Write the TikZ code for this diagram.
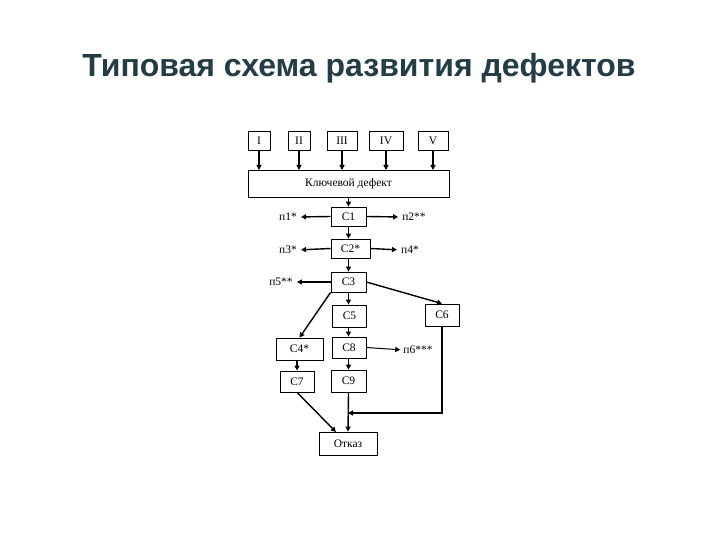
\documentclass[tikz,border=0pt]{standalone}
\usepackage{fontspec}
\setmainfont{Liberation Serif}
\newfontfamily\titlefont{Liberation Sans}
\usetikzlibrary{arrows.meta}
\definecolor{titlec}{RGB}{35,60,70}
\begin{document}
\begin{tikzpicture}[x=1pt,y=-1pt,
  bx/.style={draw,line width=0.8pt,minimum height=#1pt,inner sep=0pt,font=\fontsize{11.5}{12}\selectfont},
  bx/.default=19,
  lbl/.style={inner sep=0pt,font=\fontsize{11.5}{12}\selectfont},
  ar/.style={line width=1.4pt,-{Triangle[length=5pt,width=5pt]}}]
\useasboundingbox (0,0) rectangle (720,540);
\node[font=\titlefont\bfseries\fontsize{32}{36}\selectfont,text=titlec] (t) at (359,68) {Типовая схема развития дефектов};
\node[bx,minimum width=22pt] (i) at (259,140.5) {I};
\node[bx,minimum width=22pt] (ii) at (299,140.5) {II};
\node[bx,minimum width=30pt] (iii) at (342,140.5) {III};
\node[bx,minimum width=34pt] (iv) at (386,140.5) {IV};
\node[bx,minimum width=30pt] (v) at (433,140.5) {V};
\node[bx=27,minimum width=201pt] (k) at (348.5,183.5) {Ключевой дефект};
\node[bx,minimum width=35pt] (c1) at (348.5,216.5) {C1};
\node[bx,minimum width=39pt] (c2) at (350.5,248.5) {C2*};
\node[bx=20,minimum width=35pt] (c3) at (348.5,282) {C3};
\node[bx=22,minimum width=34pt] (c5) at (349.5,316) {C5};
\node[bx=22,minimum width=34pt] (c6) at (442,315) {C6};
\node[bx=22,minimum width=47pt] (c4) at (299.5,349) {C4*};
\node[bx=21,minimum width=34pt] (c8) at (349,347.5) {C8};
\node[bx=21,minimum width=34pt] (c7) at (297,381.5) {C7};
\node[bx=22,minimum width=35pt] (c9) at (348.5,381) {C9};
\node[bx=23,minimum width=58pt] (o) at (348,443.5) {Отказ};
\node[lbl] (p1) at (288,217) {п1*};
\node[lbl] (p2) at (414,217) {п2**};
\node[lbl] (p3) at (288,250) {п3*};
\node[lbl] (p4) at (410,250) {п4*};
\node[lbl] (p5) at (281,282) {п5**};
\node[lbl] (p6) at (418,350) {п6***};
\foreach \n/\xx in {i/259,ii/299,iii/342,iv/386,v/433}
  \draw[ar] (\n.south) -- (\xx,170);
\draw[ar] (k.south -| c1) -- (c1.north);
\draw[ar] (c1.south) -- (c1.south |- c2.north);
\draw[ar] (c1.south |- c2.south) -- (c3.north);
\draw[ar] (c3.south) -- (c3.south |- c5.north);
\draw[ar] (c3.south |- c5.south) -- (c3.south |- c8.north);
\draw[ar] (c3.south |- c8.south) -- (c9.north);
\draw[ar] (c9.south) -- (o.north);
\draw[ar] (c4.south -| c7) -- (c7.north);
\draw[ar,shorten >=4pt] (c1.west) -- (p1.east);
\draw[ar,shorten >=4pt] (c1.east) -- (p2.west);
\draw[ar,shorten >=4pt] (c2.west) -- (p3.east);
\draw[ar,shorten >=4pt] (c2.east) -- (p4.west);
\draw[ar,shorten >=4pt] (c3.west) -- (p5.east);
\draw[ar,line width=1pt,shorten >=3pt] (c8.east) -- (p6.west);
\draw[ar] (c3.south west) -- (c4.north);
\draw[ar] (c3.east) -- (c6.north);
\draw[ar] (c6.south) -- (442,413) -- (348,413);
\draw[ar] (c7.south) -- (336,432);
\end{tikzpicture}
\end{document}
